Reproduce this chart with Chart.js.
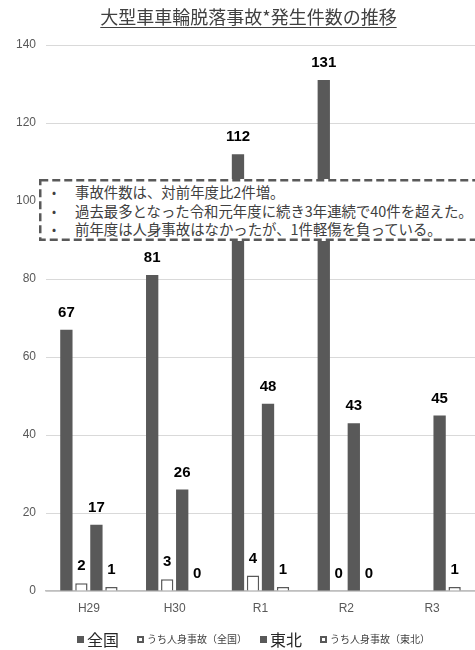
<!DOCTYPE html>
<html lang="ja">
<head>
<meta charset="utf-8">
<title>大型車車輪脱落事故発生件数の推移</title>
<script src="https://cdn.jsdelivr.net/npm/chart.js@4.4.1/dist/chart.umd.min.js"></script>
<style>
  html, body { margin: 0; padding: 0; background: #fff; }
  #wrap { position: relative; width: 475px; height: 650px; overflow: hidden; }
  #chart { position: absolute; left: 0; top: 0; }
  .jp { font-family: "Noto Sans CJK JP", "Noto Sans", sans-serif; color: #404040; }

  #title {
    position: absolute; left: 0; top: 5px; width: 497px; text-align: center;
    font-size: 18px; line-height: 22px; text-decoration: underline;
    text-underline-offset: 3px; text-decoration-thickness: 1px;
  }

  #note { position: absolute; left: 39px; top: 179px; width: 450px; height: 62px; background: #fff; }
  #note svg { position: absolute; left: 0; top: 0; }
  #note .line { position: absolute; left: 36px; font-size: 14.4px; line-height: 18px; white-space: nowrap; }
  #note .line::before { content: "•"; position: absolute; left: -23px; font-size: 12px; }

  .lg-box { position: absolute; width: 7px; height: 7px; box-sizing: border-box; }
  .lg-fill { background: #595959; }
  .lg-open { background: #fff; border: 2px solid #595959; }
  .lg-text { position: absolute; white-space: nowrap; color: #262626; }
  .lg-big { font-size: 16px; line-height: 20px; top: 629px; }
  .lg-small { font-size: 10px; line-height: 14px; top: 632px; color: #404040; }
</style>
</head>
<body>
<div id="wrap">
  <canvas id="chart"></canvas>

  <div id="title" class="jp">大型車車輪脱落事故*発生件数の推移</div>

  <!-- 注記ボックス -->
  <div id="note" class="jp">
    <svg width="450" height="62">
      <rect x="1.25" y="1.25" width="447" height="59.5" fill="#fff"
            stroke="#595959" stroke-width="2.5" stroke-dasharray="8 4"/>
    </svg>
    <div class="line" style="top:4px">事故件数は、対前年度比2件増。</div>
    <div class="line" style="top:23px">過去最多となった令和元年度に続き3年連続で40件を超えた。</div>
    <div class="line" style="top:41px">前年度は人身事故はなかったが、1件軽傷を負っている。</div>
  </div>

  <!-- 凡例 -->
  <div class="lg-box lg-fill" style="left:77px; top:636px"></div>
  <div class="lg-text lg-big jp" style="left:87px">全国</div>
  <div class="lg-box lg-open" style="left:137px; top:636px"></div>
  <div class="lg-text lg-small jp" style="left:147px">うち人身事故（全国）</div>
  <div class="lg-box lg-fill" style="left:260px; top:636px"></div>
  <div class="lg-text lg-big jp" style="left:270px">東北</div>
  <div class="lg-box lg-open" style="left:320px; top:636px"></div>
  <div class="lg-text lg-small jp" style="left:330px">うち人身事故（東北）</div>
</div>

<script>
// ---------------------------------------------------------------------
// データ
// ---------------------------------------------------------------------
const categories = ["H29", "H30", "R1", "R2", "R3"];

const zenkoku        = [67, 81, 112, 131, null];
const jinshinZenkoku = [2, 3, 4, 0, null];
const tohoku         = [17, 26, 48, 43, 45];
const jinshinTohoku  = [1, 0, 1, 0, 1];

const yTicks = [0, 20, 40, 60, 80, 100, 120, 140];

// ---------------------------------------------------------------------
// 色・フォント
// ---------------------------------------------------------------------
const DARK = "#595959";
const NUM_FONT = '"Liberation Sans", Arial, sans-serif';

// 棒の上の数値ラベル
const barLabels = {
  id: "barLabels",
  afterDatasetsDraw(chart) {
    const ctx = chart.ctx;
    ctx.save();
    ctx.font = "bold 15px " + NUM_FONT;
    ctx.fillStyle = "#000";
    ctx.textAlign = "center";
    ctx.textBaseline = "middle";
    chart.data.datasets.forEach((ds, i) => {
      chart.getDatasetMeta(i).data.forEach((bar, j) => {
        const v = ds.data[j];
        if (v === null || v === undefined) return;
        ctx.fillText(String(v), bar.x, bar.y - 17);
      });
    });
    ctx.restore();
  }
};

function filled(label, data) {
  return {
    label, data,
    backgroundColor: DARK,
    borderWidth: 0
  };
}

function open(label, data) {
  return {
    label, data,
    backgroundColor: "#fff",
    borderColor: DARK,
    borderWidth: 1.5
  };
}

new Chart(document.getElementById("chart"), {
  type: "bar",
  data: {
    labels: categories,
    datasets: [
      filled("全国", zenkoku),
      open("うち人身事故(全国)", jinshinZenkoku),
      filled("東北", tohoku),
      open("うち人身事故(東北)", jinshinTohoku)
    ]
  },
  options: {
    responsive: true,
    maintainAspectRatio: false,
    animation: false,
    events: [],
    categoryPercentage: 0.7,
    barPercentage: 0.82,
    layout: { padding: { top: 45, right: 0, bottom: 29, left: 0 } },
    plugins: {
      legend: { display: false },
      title: { display: false },
      tooltip: { enabled: false }
    },
    scales: {
      x: {
        grid: { display: false, drawTicks: false },
        border: { color: "#bfbfbf", width: 1.5 },
        ticks: {
          color: DARK,
          padding: 10,
          font: { family: NUM_FONT, size: 12 }
        },
        afterFit(scale) { scale.height = 30; }
      },
      y: {
        min: 0,
        max: 140,
        afterBuildTicks(scale) { scale.ticks = yTicks.map(v => ({ value: v })); },
        grid: { color: "#d9d9d9", lineWidth: 1, drawTicks: false },
        border: { display: false },
        ticks: {
          color: DARK,
          padding: 10,
          font: { family: NUM_FONT, size: 12 }
        },
        afterFit(scale) { scale.width = 46; }
      }
    }
  },
  plugins: [barLabels]
});
</script>
</body>
</html>
